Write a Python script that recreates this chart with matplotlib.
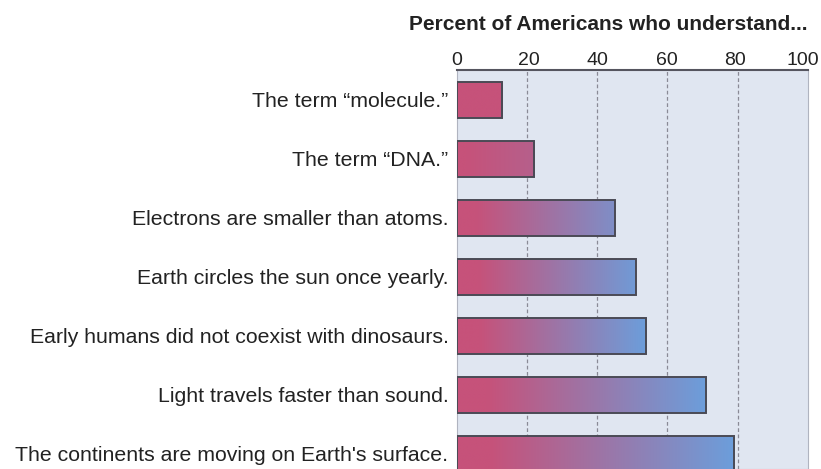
import matplotlib
matplotlib.use("Agg")
import matplotlib.pyplot as plt
import numpy as np
from matplotlib.colors import to_rgb
from matplotlib.transforms import ScaledTranslation

plt.rcParams['font.family'] = ['Liberation Sans', 'DejaVu Sans']

# data
statements = ["The term \u201cmolecule.\u201d",
              "The term \u201cDNA.\u201d",
              "Electrons are smaller than atoms.",
              "Earth circles the sun once yearly.",
              "Early humans did not coexist with dinosaurs.",
              "Light travels faster than sound.",
              "The continents are moving on Earth's surface."]
percent = [13, 22, 45, 51, 54, 71, 79]
xticks = [0, 20, 40, 60, 80, 100]
title = "Percent of Americans who understand..."

red = np.array(to_rgb('#c6527a'))
blue = np.array(to_rgb('#6c9edb'))

fig = plt.figure(figsize=(8.21, 4.69), dpi=100)
ax = fig.add_axes([0.5563, 0.0, 0.4275, 0.8507])
ax.set_facecolor('#e0e6f1')

ypos = np.arange(len(percent))
bars = ax.barh(ypos, percent, height=0.61, facecolor='none',
               edgecolor='#4a4a55', linewidth=1.4, zorder=4)

# gradient fill per bar, clipped to the bar shape
for bar, val in zip(bars, percent):
    s = np.clip((val - 15) / 38.0, 0, 1)
    t = np.linspace(0, 1, 200)
    w = np.clip((t - 0.12) / 0.88, 0, 1) * s
    cols = red[None, :] * (1 - w[:, None]) + blue[None, :] * w[:, None]
    img = cols[None, :, :]
    y0 = bar.get_y()
    im = ax.imshow(img, extent=[0, val, y0 + bar.get_height(), y0],
                   aspect='auto', interpolation='bilinear', zorder=3)
    im.set_clip_path(bar)

ax.set_xlim(0, 100)
ax.set_ylim(6.26, -0.5)
ax.set_yticks(ypos)
ax.set_yticklabels(statements, fontsize=15.3, color='#222222')
ax.tick_params(axis='y', length=0, pad=6)
ax.xaxis.tick_top()
ax.set_xticks(xticks)
ax.tick_params(axis='x', length=0, pad=1, labelsize=14, labelcolor='#222222')

# nudge the outer top labels inwards a little, like the original
labels = ax.get_xticklabels()
labels[-1].set_transform(labels[-1].get_transform() +
                         ScaledTranslation(-5 / 100, 0, fig.dpi_scale_trans))
labels[-2].set_transform(labels[-2].get_transform() +
                         ScaledTranslation(-3 / 100, 0, fig.dpi_scale_trans))
labels[1].set_transform(labels[1].get_transform() +
                        ScaledTranslation(2 / 100, 0, fig.dpi_scale_trans))

for x in xticks[1:-1]:
    ax.axvline(x, color='#8a8a96', linestyle=(0, (3, 2)), linewidth=0.9, zorder=1)

for side in ['left', 'right', 'bottom']:
    ax.spines[side].set_color('#b0b4c0')
    ax.spines[side].set_linewidth(0.8)
ax.spines['top'].set_color('#55555f')
ax.spines['top'].set_linewidth(1.5)

fig.text(0.9838, 0.947, title, ha='right', va='center', fontsize=15,
         fontweight='bold', color='#222222')

fig.savefig('out.png', dpi=100)
